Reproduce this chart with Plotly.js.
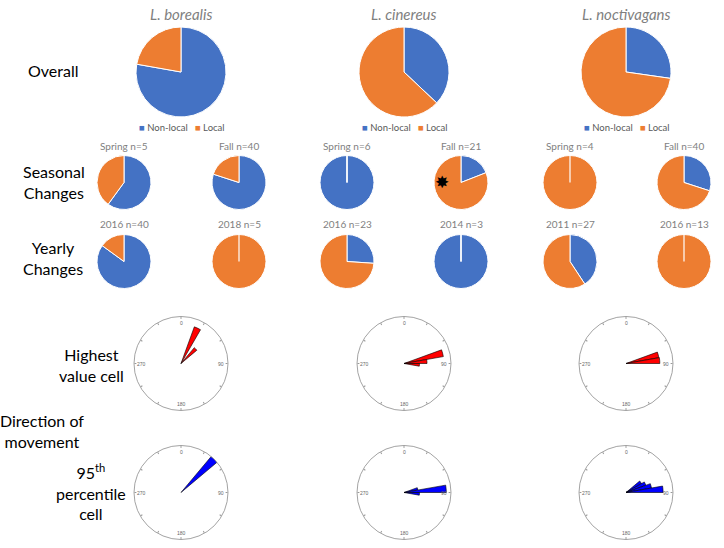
<!DOCTYPE html>
<html>
<head>
<meta charset="utf-8">
<script src="https://cdn.plot.ly/plotly-3.0.1.min.js"></script>
<style>html,body{margin:0;padding:0;background:#fff;}#chart{width:724px;height:548px;}</style>
</head>
<body>
<div id="chart"></div>
<script>
// ---- data ----
var species = ['L. borealis', 'L. cinereus', 'L. noctivagans'];
var sliceLabels = ['Non-local', 'Local'];
var overallNonLocal = [35, 10, 12];
var overallLocal = [10, 17, 32];

var seasonTitles = ['Spring n=5', 'Fall n=40', 'Spring n=6', 'Fall n=21', 'Spring n=4', 'Fall n=40'];
var seasonNonLocal = [3, 32, 6, 4, 0, 12];
var seasonLocal = [2, 8, 0, 17, 4, 28];

var yearTitles = ['2016 n=40', '2018 n=5', '2016 n=23', '2014 n=3', '2011 n=27', '2016 n=13'];
var yearNonLocal = [34, 0, 6, 3, 11, 0];
var yearLocal = [6, 5, 17, 0, 16, 13];

var rowLabels = ['Overall', 'Seasonal<br>Changes', 'Yearly<br>Changes', 'Highest<br>value cell', 'Direction of<br>movement', '95<sup>th</sup><br>percentile<br>cell'];

// rose diagrams: bin centre (degrees) and relative length
var highTheta = [[25, 45], [75, 85, 95], [75, 85]];
var highR = [[0.83, 0.44], [0.85, 0.49, 0.33], [0.71, 0.72]];
var pctTheta = [[45], [75, 85, 95], [55, 65, 75, 85]];
var pctR = [[1.0], [0.3, 0.9, 0.33], [0.38, 0.45, 0.55, 0.79]];
var binWidth = 10;
var angleTickVals = [0, 30, 60, 90, 120, 150, 180, 210, 240, 270, 300, 330];
var compassLabels = ['0', '90', '180', '270'];

// ---- styling / layout helpers ----
var W = 724, H = 548;
var BLUE = '#4472C4', ORANGE = '#ED7D31';
var FONT = 'Lato, "Open Sans", sans-serif';
function px(x) { return x / W; }
function py(y) { return 1 - y / H; }
function dom(cx, cy, r) {
  return { x: [px(cx - r), px(cx + r)], y: [py(cy + r), py(cy - r)] };
}

var colX = [181, 404, 626];
var smallX = [124, 239, 347, 461, 570, 684];
var traces = [];
var annotations = [];
var shapes = [];

function pie(nonlocal, local, cx, cy, r) {
  if (nonlocal === 0 || local === 0) {
    // single-category pie: keep the thin white slice border at 12 o'clock
    shapes.push({ type: 'line', xref: 'paper', yref: 'paper', x0: px(cx), x1: px(cx), y0: py(cy), y1: py(cy - r),
      line: { color: '#ffffff', width: 1.2 }, layer: 'above' });
  }
  return {
    type: 'pie', values: [nonlocal, local], labels: sliceLabels,
    marker: { colors: [BLUE, ORANGE], line: { color: '#ffffff', width: 1 } },
    sort: false, direction: 'clockwise', rotation: 0,
    textinfo: 'none', hoverinfo: 'label+value+percent',
    showlegend: false, domain: dom(cx, cy, r)
  };
}

for (var i = 0; i < 3; i++) {
  traces.push(pie(overallNonLocal[i], overallLocal[i], colX[i], 72, 45));
  annotations.push({ text: '<i>' + species[i] + '</i>', x: px(colX[i]), y: py(14), xref: 'paper', yref: 'paper',
    showarrow: false, font: { family: FONT, size: 15, color: '#7f7f7f' }, xanchor: 'center', yanchor: 'middle' });
  annotations.push({ text: '<span style="color:' + BLUE + '">■</span> ' + sliceLabels[0] + '   <span style="color:' + ORANGE + '">■</span> ' + sliceLabels[1],
    x: px(colX[i] + 1), y: py(128), xref: 'paper', yref: 'paper', showarrow: false,
    font: { family: FONT, size: 9.5, color: '#595959' }, xanchor: 'center', yanchor: 'middle' });
}
for (var j = 0; j < 6; j++) {
  traces.push(pie(seasonNonLocal[j], seasonLocal[j], smallX[j], 182.5, 27));
  traces.push(pie(yearNonLocal[j], yearLocal[j], smallX[j], 261.5, 27));
  annotations.push({ text: seasonTitles[j], x: px(smallX[j]), y: py(145.5), xref: 'paper', yref: 'paper', showarrow: false,
    font: { family: FONT, size: 10, color: '#7f7f7f' }, xanchor: 'center', yanchor: 'middle' });
  annotations.push({ text: yearTitles[j], x: px(smallX[j]), y: py(223.5), xref: 'paper', yref: 'paper', showarrow: false,
    font: { family: FONT, size: 10, color: '#7f7f7f' }, xanchor: 'center', yanchor: 'middle' });
}

var layout = {
  width: W, height: H, margin: { l: 0, r: 0, t: 0, b: 0 },
  paper_bgcolor: '#ffffff', showlegend: false, font: { family: FONT }
};

function polarAxis(d) {
  return {
    domain: d, bgcolor: 'rgba(0,0,0,0)',
    radialaxis: { visible: false, range: [0, 1] },
    angularaxis: { rotation: 90, direction: 'clockwise', tickmode: 'array', tickvals: angleTickVals,
      showticklabels: false, ticks: 'inside', ticklen: 2, tickcolor: '#999999',
      showgrid: false, linecolor: '#8c8c8c', linewidth: 0.8, showline: true }
  };
}
function compass(cx, cy, r) {
  // angle labels drawn just inside the rim, as in the reference
  var off = [[0, -r * 0.86], [r * 0.86, 0], [0, r * 0.86], [-r * 0.84, 0]];
  for (var q = 0; q < 4; q++) {
    annotations.push({ text: compassLabels[q], x: px(cx + off[q][0]), y: py(cy + off[q][1]), xref: 'paper', yref: 'paper',
      showarrow: false, xanchor: 'center', yanchor: 'middle', font: { family: 'Liberation Sans, Arial', size: 5, color: '#666666' } });
  }
}
var pIdx = 1;
for (var k = 0; k < 3; k++) {
  var name1 = pIdx === 1 ? 'polar' : 'polar' + pIdx;
  layout[name1] = polarAxis(dom(colX[k], 363.5, 47));
  compass(colX[k], 363.5, 47);
  traces.push({ type: 'barpolar', subplot: name1, theta: highTheta[k], r: highR[k], width: binWidth,
    marker: { color: '#ff0000', line: { color: '#000000', width: 0.6 } }, showlegend: false, hoverinfo: 'theta+r' });
  pIdx++;
  var name2 = 'polar' + pIdx;
  layout[name2] = polarAxis(dom(colX[k], 492.5, 47));
  compass(colX[k], 492.5, 47);
  traces.push({ type: 'barpolar', subplot: name2, theta: pctTheta[k], r: pctR[k], width: binWidth,
    marker: { color: '#0000ff', line: { color: '#000000', width: 0.6 } }, showlegend: false, hoverinfo: 'theta+r' });
  pIdx++;
}

var rowPos = [[53, 70], [54, 182], [53, 258], [91, 365], [42, 431], [91, 492]];
for (var m = 0; m < rowLabels.length; m++) {
  annotations.push({ text: rowLabels[m], x: px(rowPos[m][0]), y: py(rowPos[m][1]), xref: 'paper', yref: 'paper',
    showarrow: false, align: 'center', xanchor: 'center', yanchor: 'middle',
    font: { family: FONT, size: 16, color: '#000000' } });
}
// black star marker on the L. cinereus fall pie
annotations.push({ text: '✸', x: px(442), y: py(182), xref: 'paper', yref: 'paper', showarrow: false,
  xanchor: 'center', yanchor: 'middle', font: { family: 'DejaVu Sans', size: 17, color: '#000000' } });

layout.annotations = annotations;
layout.shapes = shapes;
Plotly.newPlot('chart', traces, layout, { displayModeBar: false, staticPlot: true });
</script>
</body>
</html>
